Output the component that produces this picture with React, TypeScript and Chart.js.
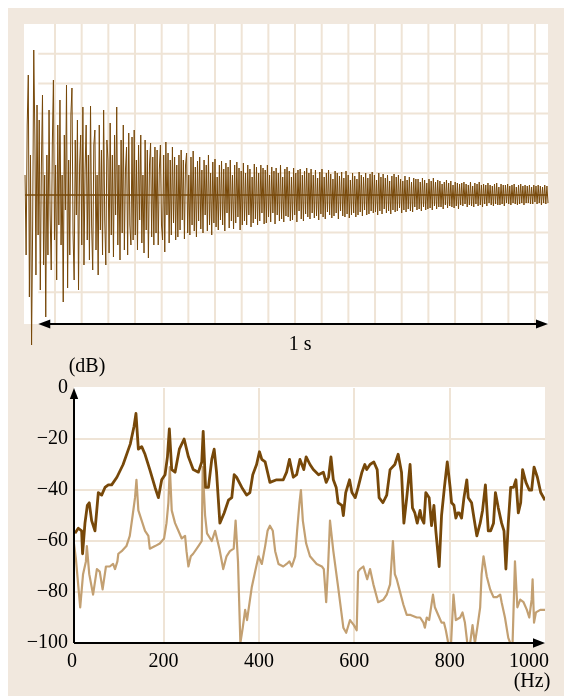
import { useEffect, useRef } from "react";
import { Chart, registerables } from "chart.js";

Chart.register(...registerables);

const PAGE_BG = "#f1e8de";
const DARK = "#774809";
const LIGHT = "#c3a072";
const RULE = "#efe4d6";
const SERIF = '"Liberation Serif", "Times New Roman", serif';

// Decay record: time span (s) and sampled amplitude (arbitrary units)
const signalStart = -0.026;
const signalEnd = 1.0;
const signalAmplitude = [
  20, -60, 70, 120, -102, 40, -150, -30, 145, 60, -80, 90, -40, 75, -95, 30, 100, -70, 20, -122,
  40, -60, 85, -20, -75, 50, 115, -45, 30, -85, 70, -30, 95, -50, 20, -107, 60, -15, 110, -93,
  35, -60, 80, 107, -40, -85, 55, -20, 75, -95, 30, 60, -50, 88, -70, 25, 70, -45, 40, -65,
  89, -30, -75, 50, 65, -55, 20, -80, 70, -35, 45, -60, 85, -25, -70, 55, 35, -58, 72, -40,
  40, -62, 60, -20, 88, -50, 30, -65, 55, -38, 70, -55, 25, 48, -60, 62, -30, -50, 58, -45,
  65, -40, 35, -55, 50, -25, 60, -48, 20, -58, 55, -35, 45, -63, 30, 52, -42, 38, -50, 48,
  -38, 45, -50, 25, 50, -30, -45, 40, -57, 53, -20, 42, -48, 35, -40, 48, -28, 38, -45, 30,
  -42, 40, -35, 45, -25, 35, -44, 30, 42, -38, 20, -40, 38, -30, 44, -36, 28, -42, 34, -26,
  38, -34, 25, -38, 35, -20, 30, -36, 40, -30, 22, -40, 33, -28, 36, -32, 18, -35, 30, -25,
  34, -30, 26, -36, 32, -18, 28, -33, 35, -26, 20, -34, 30, -28, 33, -22, 27, -35, 24, -30,
  32, -26, 22, -30, 30, -20, 26, -32, 18, -28, 31, -24, 28, -30, 22, -26, 30, -18, 27, -29,
  25, -28, 30, -22, 20, -27, 28, -18, 24, -29, 27, -20, 22, -26, 30, -24, 18, -27, 26, -21,
  28, -22, 24, -26, 18, -25, 27, -20, 22, -27, 25, -16, 26, -24, 20, -26, 24, -19, 27, -22,
  22, -24, 26, -18, 20, -23, 25, -21, 17, -25, 23, -19, 26, -22, 18, -24, 22, -17, 25, -20,
  21, -23, 16, -21, 24, -18, 22, -24, 19, -16, 23, -21, 17, -22, 24, -19, 20, -23, 15, -20,
  22, -18, 19, -22, 16, -20, 23, -17, 20, -21, 18, -15, 22, -20, 17, -19, 21, -16, 23, -18,
  20, -17, 15, -20, 22, -16, 18, -19, 21, -14, 17, -18, 20, -16, 14, -19, 19, -15, 21, -17,
  18, -16, 20, -13, 16, -18, 14, -15, 19, -17, 15, -14, 18, -16, 13, -17, 17, -12, 16, -15,
  16, -14, 13, -16, 17, -12, 15, -15, 12, -14, 16, -13, 14, -15, 17, -11, 13, -14, 15, -12,
  14, -12, 11, -14, 13, -10, 15, -13, 12, -11, 14, -12, 10, -13, 13, -11, 12, -14, 11, -10,
  12, -11, 13, -9, 11, -12, 10, -10, 13, -11, 9, -12, 12, -9, 11, -11, 13, -10, 10, -12,
  11, -9, 10, -11, 12, -8, 10, -10, 9, -11, 11, -9, 12, -10, 8, -10, 11, -9, 10, -11,
  10, -8, 11, -9, 9, -10, 10, -8, 11, -9, 8, -10, 10, -9, 11, -8, 9, -10, 10, -8,
  9, -8, 10, -9, 8, -9, 10, -7, 9, -9, 10, -8, 9, -10, 8, -8, 10, -9, 9, -8,
];

// Spectrum, dark trace
const upperHz = [
  14, 21, 28, 30, 35, 40, 44, 49, 56, 63,
  70, 77, 84, 91, 102, 115, 130, 138, 142, 147,
  154, 161, 171, 182, 189, 196, 203, 208, 212, 217,
  224, 233, 243, 252, 262, 273, 280, 283, 288, 294,
  301, 306, 311, 318, 327, 336, 343, 348, 353, 364,
  374, 381, 387, 395, 401, 406, 413, 423, 437, 451,
  458, 464, 472, 479, 486, 494, 499, 507, 514, 525,
  535, 541, 546, 551, 556, 562, 566, 574, 577, 582,
  590, 595, 602, 608, 616, 622, 626, 633, 641, 648,
  652, 660, 668, 675, 685, 692, 699, 704, 710, 717,
  722, 727, 732, 738, 741, 746, 750, 757, 762, 767,
  771, 778, 783, 789, 795, 801, 804, 809, 813, 817,
  820, 825, 830, 836, 839, 846, 851, 857, 864, 869,
  875, 881, 886, 892, 896, 902, 909, 914, 918, 923,
  928, 934, 939, 944, 949, 953, 960, 967, 972, 977,
  984, 991, 1000,
];
const upperDb = [
  -57, -55, -56, -65, -53, -46, -45, -52, -56, -41,
  -42, -39, -38, -38, -35, -30, -22, -15, -10, -24,
  -23, -26, -32, -39, -43, -36, -34, -27, -16, -32,
  -33, -24, -20, -27, -32, -33, -29, -17, -39, -39,
  -28, -24, -33, -53, -49, -44, -43, -34, -35, -39,
  -42, -41, -34, -30, -25, -28, -29, -37, -36, -36,
  -33, -28, -35, -34, -28, -32, -27, -30, -32, -34,
  -33, -37, -35, -27, -36, -39, -45, -46, -50, -41,
  -36, -41, -43, -39, -33, -30, -32, -30, -29, -32,
  -43, -45, -42, -32, -30, -26, -33, -53, -43, -30,
  -47, -49, -53, -48, -51, -53, -41, -43, -54, -46,
  -56, -70, -50, -39, -29, -39, -45, -46, -51, -49,
  -49, -51, -43, -36, -43, -45, -51, -58, -53, -48,
  -38, -56, -56, -53, -41, -47, -53, -56, -71, -53,
  -39, -39, -36, -49, -45, -32, -37, -40, -40, -31,
  -35, -41, -44,
];

// Spectrum, light trace
const lowerHz = [
  12, 16, 25, 31, 37, 39, 44, 52, 60, 66,
  72, 79, 87, 94, 98, 103, 105, 112, 122, 129,
  135, 140, 143, 147, 154, 161, 168, 171, 182, 192,
  201, 206, 210, 213, 217, 224, 231, 238, 245, 248,
  252, 257, 262, 273, 280, 282, 287, 291, 301, 308,
  317, 325, 332, 339, 347, 351, 356, 361, 366, 371,
  375, 385, 392, 399, 406, 413, 418, 423, 429, 434,
  441, 451, 458, 464, 469, 476, 480, 485, 488, 492,
  499, 507, 521, 532, 536, 541, 545, 549, 556, 566,
  577, 583, 591, 599, 605, 608, 612, 619, 627, 633,
  640, 650, 661, 668, 675, 681, 685, 689, 703, 710,
  718, 731, 738, 745, 748, 752, 757, 765, 769, 776,
  783, 788, 792, 797, 803, 808, 813, 822, 827, 832,
  837, 843, 848, 853, 858, 864, 867, 871, 878, 885,
  892, 899, 906, 909, 916, 923, 927, 932, 937, 942,
  948, 955, 962, 967, 972, 974, 977, 981, 990, 1000,
];
const lowerDb = [
  -61, -67, -86, -73, -68, -62, -73, -81, -71, -72,
  -79, -70, -70, -69, -71, -68, -65, -64, -62, -58,
  -50, -43, -36, -48, -52, -56, -58, -63, -62, -61,
  -59, -53, -45, -31, -48, -53, -56, -59, -58, -64,
  -70, -66, -65, -62, -60, -31, -50, -57, -60, -56,
  -63, -71, -66, -64, -63, -52, -68, -100, -94, -87,
  -91, -78, -72, -66, -69, -62, -56, -54, -56, -64,
  -69, -70, -69, -68, -70, -66, -56, -45, -40, -52,
  -61, -66, -69, -70, -71, -84, -70, -52, -64, -78,
  -94, -96, -91, -93, -95, -72, -71, -70, -75, -71,
  -77, -84, -83, -81, -77, -60, -73, -75, -85, -89,
  -89, -90, -90, -92, -94, -90, -91, -81, -86, -89,
  -92, -92, -95, -100, -100, -81, -91, -90, -88, -92,
  -100, -100, -93, -100, -94, -86, -73, -66, -74, -79,
  -82, -82, -81, -84, -90, -98, -100, -100, -68, -86,
  -83, -84, -87, -90, -83, -75, -92, -88, -87, -87,
];

const freqTicks = [0, 200, 400, 600, 800, 1000];
const levelTicks = [0, -20, -40, -60, -80, -100];
const levelUnit = "(dB)";
const freqUnit = "(Hz)";
const spanLabel = "1 s";

function arrowHead(ctx: CanvasRenderingContext2D, tipX: number, tipY: number, dir: "left" | "right" | "up", len: number, half: number) {
  ctx.beginPath();
  ctx.moveTo(tipX, tipY);
  if (dir === "left") {
    ctx.lineTo(tipX + len, tipY - half);
    ctx.lineTo(tipX + len, tipY + half);
  } else if (dir === "right") {
    ctx.lineTo(tipX - len, tipY - half);
    ctx.lineTo(tipX - len, tipY + half);
  } else {
    ctx.lineTo(tipX - half, tipY + len);
    ctx.lineTo(tipX + half, tipY + len);
  }
  ctx.closePath();
  ctx.fill();
}

// Graph paper behind the decay record
const paperPlugin = {
  id: "paper",
  beforeDraw(chart: any) {
    const { ctx, chartArea: a, scales } = chart;
    ctx.save();
    ctx.fillStyle = "#ffffff";
    ctx.fillRect(a.left, a.top, a.right - a.left, a.bottom - a.top);
    ctx.strokeStyle = RULE;
    ctx.lineWidth = 2;
    ctx.beginPath();
    for (let x = a.left + 31; x < a.right - 6; x += 26.67) {
      ctx.moveTo(x, a.top);
      ctx.lineTo(x, a.bottom);
    }
    const x0 = scales.x.getPixelForValue(0);
    for (let y = a.top + 29.8; y < a.bottom - 4; y += 29.8) {
      ctx.moveTo(x0, y);
      ctx.lineTo(a.right, y);
    }
    ctx.stroke();
    ctx.restore();
  },
};

// Double arrow marking one second
const spanPlugin = {
  id: "span",
  afterDraw(chart: any) {
    const { ctx, chartArea: a, scales } = chart;
    const x0 = scales.x.getPixelForValue(0);
    const x1 = scales.x.getPixelForValue(1);
    const y = a.bottom;
    ctx.save();
    ctx.strokeStyle = "#000";
    ctx.fillStyle = "#000";
    ctx.lineWidth = 2;
    ctx.beginPath();
    ctx.moveTo(x0 + 8, y);
    ctx.lineTo(x1 - 8, y);
    ctx.stroke();
    arrowHead(ctx, x0, y, "left", 12, 4.5);
    arrowHead(ctx, x1, y, "right", 12, 4.5);
    ctx.font = `20px ${SERIF}`;
    ctx.textAlign = "center";
    ctx.textBaseline = "alphabetic";
    ctx.fillText(spanLabel, (x0 + x1) / 2 + 7, y + 26);
    ctx.restore();
  },
};

// White plot field, axes with arrows, frequency labels and units
const spectrumFramePlugin = {
  id: "spectrumFrame",
  beforeDraw(chart: any) {
    const { ctx, chartArea: a } = chart;
    ctx.save();
    ctx.fillStyle = "#ffffff";
    ctx.fillRect(a.left, a.top - 1, a.right - a.left, a.bottom - a.top + 1);
    ctx.restore();
  },
  afterDatasetsDraw(chart: any) {
    const { ctx, chartArea: a, scales } = chart;
    ctx.save();
    ctx.strokeStyle = "#000";
    ctx.fillStyle = "#000";
    ctx.lineWidth = 2;
    ctx.beginPath();
    ctx.moveTo(a.left, a.bottom);
    ctx.lineTo(a.left, a.top + 8);
    ctx.moveTo(a.left, a.bottom);
    ctx.lineTo(a.right - 8, a.bottom);
    ctx.stroke();
    arrowHead(ctx, a.left, a.top, "up", 11, 4.2);
    arrowHead(ctx, a.right, a.bottom, "right", 12, 4.8);

    ctx.font = `20px ${SERIF}`;
    ctx.textBaseline = "alphabetic";
    ctx.textAlign = "center";
    const limit = a.right + 4;
    freqTicks.forEach((v) => {
      const label = String(v);
      const w = ctx.measureText(label).width;
      let px = scales.x.getPixelForValue(v);
      px = Math.max(px, a.left - 2);
      px = Math.min(px, limit - w / 2);
      ctx.fillText(label, px, a.bottom + 24);
    });
    ctx.fillText(levelUnit, a.left + 13, a.top - 16);
    ctx.fillText(freqUnit, a.right - 13, a.bottom + 44);
    ctx.restore();
  },
};

export default function App() {
  const topRef = useRef<HTMLCanvasElement | null>(null);
  const bottomRef = useRef<HTMLCanvasElement | null>(null);

  useEffect(() => {
    const dt = (signalEnd - signalStart) / (signalAmplitude.length - 1);
    const waveform = signalAmplitude.map((v, i) => ({ x: signalStart + i * dt, y: v }));

    const top = new Chart(topRef.current as HTMLCanvasElement, {
      type: "line",
      data: {
        datasets: [
          {
            data: [
              { x: signalStart, y: 0 },
              { x: signalEnd, y: 0 },
            ],
            borderColor: DARK,
            borderWidth: 1.6,
            pointRadius: 0,
          },
          {
            data: waveform,
            borderColor: DARK,
            borderWidth: 1,
            borderJoinStyle: "round",
            pointRadius: 0,
            clip: false as any,
          },
        ],
      },
      options: {
        animation: false,
        responsive: false,
        events: [],
        layout: { padding: { left: 16, top: 16, right: 16, bottom: 36 } },
        plugins: { legend: { display: false }, tooltip: { enabled: false } },
        scales: {
          x: { type: "linear", display: false, min: -0.028, max: 1.0 },
          y: { type: "linear", display: false, min: -129, max: 171 },
        },
      },
      plugins: [paperPlugin, spanPlugin],
    });

    const bottom = new Chart(bottomRef.current as HTMLCanvasElement, {
      type: "line",
      data: {
        datasets: [
          {
            data: upperHz.map((f, i) => ({ x: f, y: upperDb[i] })),
            borderColor: DARK,
            borderWidth: 2.8,
            borderJoinStyle: "round",
            pointRadius: 0,
            tension: 0,
          },
          {
            data: lowerHz.map((f, i) => ({ x: f, y: lowerDb[i] })),
            borderColor: LIGHT,
            borderWidth: 2.2,
            borderJoinStyle: "round",
            pointRadius: 0,
            tension: 0,
          },
        ],
      },
      options: {
        animation: false,
        responsive: false,
        events: [],
        layout: { padding: { left: 0, top: 40, right: 19, bottom: 0 } },
        plugins: { legend: { display: false }, tooltip: { enabled: false } },
        scales: {
          x: {
            type: "linear",
            min: 12,
            max: 1000,
            afterBuildTicks: (s: any) => {
              s.ticks = freqTicks.filter((v) => v >= 12).map((v) => ({ value: v }));
            },
            afterFit: (s: any) => {
              s.height = 53;
            },
            ticks: { display: false },
            grid: {
              color: (c: any) => (c.tick && c.tick.value < 1000 ? RULE : "rgba(0,0,0,0)"),
              lineWidth: 2,
              drawTicks: false,
            },
            border: { display: false },
          },
          y: {
            type: "linear",
            min: -100,
            max: 0,
            afterBuildTicks: (s: any) => {
              s.ticks = levelTicks.map((v) => ({ value: v }));
            },
            afterFit: (s: any) => {
              s.width = 66;
            },
            ticks: {
              color: "#000",
              padding: 6,
              font: { family: SERIF, size: 20, weight: "normal" },
              callback: (v: any) => (Number(v) === 0 ? "0" : "\u2212" + Math.abs(Number(v))),
            },
            grid: {
              color: (c: any) =>
                c.tick && c.tick.value !== 0 && c.tick.value !== -100 ? RULE : "rgba(0,0,0,0)",
              lineWidth: 2,
              drawTicks: false,
            },
            border: { display: false },
          },
        },
      },
      plugins: [spectrumFramePlugin],
    });

    return () => {
      top.destroy();
      bottom.destroy();
    };
  }, []);

  return (
    <div
      style={{
        position: "fixed",
        left: 8,
        top: 8,
        right: 0,
        bottom: 0,
        background: PAGE_BG,
        overflow: "hidden",
      }}
    >
      <canvas
        ref={topRef}
        width={556}
        height={352}
        style={{ position: "absolute", left: 0, top: 0, width: 556, height: 352 }}
      />
      <canvas
        ref={bottomRef}
        width={556}
        height={348}
        style={{ position: "absolute", left: 0, top: 340, width: 556, height: 348 }}
      />
    </div>
  );
}
